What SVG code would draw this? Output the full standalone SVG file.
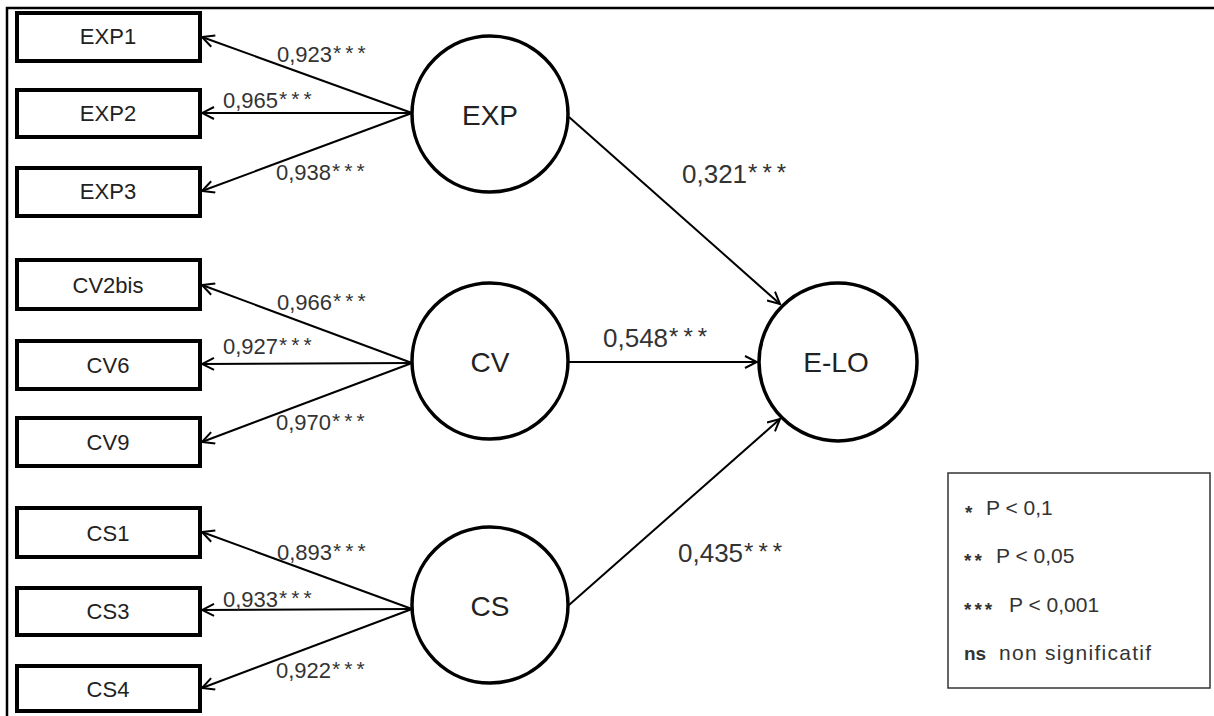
<svg xmlns="http://www.w3.org/2000/svg" width="1214" height="716" viewBox="0 0 1214 716">
<style>
.box{fill:#fff;stroke:#000;stroke-width:4}
.lat{fill:#fff;stroke:#000;stroke-width:3.5}
.t{font-family:"Liberation Sans",Arial,sans-serif;fill:#222}
.bt{font-size:22px;text-anchor:middle}
.ct{font-size:28px;text-anchor:middle}
.lb{font-size:22px;fill:#333}
.pb{font-size:26px;fill:#333}
.st{font-size:21px;letter-spacing:4px}
.sb{font-size:24px;letter-spacing:5px}
.lg{font-size:21px;fill:#333}
.ls{font-size:19px;font-weight:bold;letter-spacing:3px}
.cn{stroke:#000;stroke-width:2;fill:none;marker-end:url(#ah)}
</style>
<defs>
<marker id="ah" viewBox="0 0 14 14" refX="13" refY="7" markerWidth="14" markerHeight="14" markerUnits="userSpaceOnUse" orient="auto">
<path d="M1,1 L13,7 L1,13" fill="none" stroke="#000" stroke-width="2"/>
</marker>
</defs>
<rect width="1214" height="716" fill="#fff"/>
<g id="frame"><path d="M7,716 V8 H1214" fill="none" stroke="#000" stroke-width="2.5"/></g>
<g id="connectors">
<line class="cn" x1="412" y1="113" x2="202" y2="37"/>
<line class="cn" x1="412" y1="113" x2="202" y2="113"/>
<line class="cn" x1="412" y1="113" x2="202" y2="191"/>
<line class="cn" x1="412" y1="363" x2="202" y2="285"/>
<line class="cn" x1="412" y1="363" x2="202" y2="364"/>
<line class="cn" x1="412" y1="363" x2="202" y2="442"/>
<line class="cn" x1="412" y1="609" x2="202" y2="532"/>
<line class="cn" x1="412" y1="609" x2="202" y2="610"/>
<line class="cn" x1="412" y1="609" x2="202" y2="688"/>
<line class="cn" x1="569" y1="117" x2="780" y2="304"/>
<line class="cn" x1="568" y1="362" x2="757" y2="362"/>
<line class="cn" x1="569" y1="605" x2="780" y2="419"/>
<text class="t lb" x="277" y="62">0,923<tspan class="st" dx="1" dy="-2">***</tspan></text>
<text class="t lb" x="223" y="108">0,965<tspan class="st" dx="1" dy="-2">***</tspan></text>
<text class="t lb" x="276" y="180">0,938<tspan class="st" dx="1" dy="-2">***</tspan></text>
<text class="t lb" x="277" y="310">0,966<tspan class="st" dx="1" dy="-2">***</tspan></text>
<text class="t lb" x="223" y="354">0,927<tspan class="st" dx="1" dy="-2">***</tspan></text>
<text class="t lb" x="276" y="430">0,970<tspan class="st" dx="1" dy="-2">***</tspan></text>
<text class="t lb" x="277" y="560">0,893<tspan class="st" dx="1" dy="-2">***</tspan></text>
<text class="t lb" x="223" y="607">0,933<tspan class="st" dx="1" dy="-2">***</tspan></text>
<text class="t lb" x="276" y="678">0,922<tspan class="st" dx="1" dy="-2">***</tspan></text>
<text class="t pb" x="682" y="183">0,321<tspan class="sb" dx="1" dy="-2">***</tspan></text>
<text class="t pb" x="603" y="347">0,548<tspan class="sb" dx="1" dy="-2">***</tspan></text>
<text class="t pb" x="678" y="562">0,435<tspan class="sb" dx="1" dy="-2">***</tspan></text>
</g>
<g id="EXP1"><rect class="box" x="17" y="13" width="183" height="48"/><text class="t bt" x="108" y="44">EXP1</text></g>
<g id="EXP2"><rect class="box" x="17" y="90" width="183" height="47"/><text class="t bt" x="108" y="121">EXP2</text></g>
<g id="EXP3"><rect class="box" x="17" y="168" width="183" height="48"/><text class="t bt" x="108" y="199">EXP3</text></g>
<g id="CV2bis"><rect class="box" x="17" y="260" width="183" height="49"/><text class="t bt" x="108" y="293">CV2bis</text></g>
<g id="CV6"><rect class="box" x="17" y="341" width="183" height="48"/><text class="t bt" x="108" y="373">CV6</text></g>
<g id="CV9"><rect class="box" x="17" y="418" width="183" height="48"/><text class="t bt" x="108" y="450">CV9</text></g>
<g id="CS1"><rect class="box" x="17" y="508" width="183" height="49"/><text class="t bt" x="108" y="541">CS1</text></g>
<g id="CS3"><rect class="box" x="17" y="588" width="183" height="47"/><text class="t bt" x="108" y="619">CS3</text></g>
<g id="CS4"><rect class="box" x="17" y="666" width="183" height="45"/><text class="t bt" x="108" y="697">CS4</text></g>
<g id="EXP"><circle class="lat" cx="490" cy="114" r="78"/><text class="t ct" x="490" y="125">EXP</text></g>
<g id="CV"><circle class="lat" cx="490" cy="361" r="78"/><text class="t ct" x="490" y="372">CV</text></g>
<g id="CS"><circle class="lat" cx="490" cy="605" r="78"/><text class="t ct" x="490" y="616">CS</text></g>
<g id="E-LO"><circle class="lat" cx="838" cy="362" r="79"/><text class="t ct" x="836" y="372">E-LO</text></g>
<g id="legend">
<rect x="948" y="473" width="262" height="215" fill="#fff" stroke="#333" stroke-width="1.5"/>
<text class="t lg" y="515"><tspan class="ls" x="965" dy="4">*</tspan><tspan x="986" dy="-4">P &lt; 0,1</tspan></text>
<text class="t lg" y="563"><tspan class="ls" x="964" dy="4">**</tspan><tspan x="996" dy="-4">P &lt; 0,05</tspan></text>
<text class="t lg" y="612"><tspan class="ls" x="964" dy="4">***</tspan><tspan x="1009" dy="-4">P &lt; 0,001</tspan></text>
<text class="t lg" y="660"><tspan x="964" font-weight="bold" font-size="19">ns</tspan><tspan x="999" textLength="152">non significatif</tspan></text>
</g>
</svg>
